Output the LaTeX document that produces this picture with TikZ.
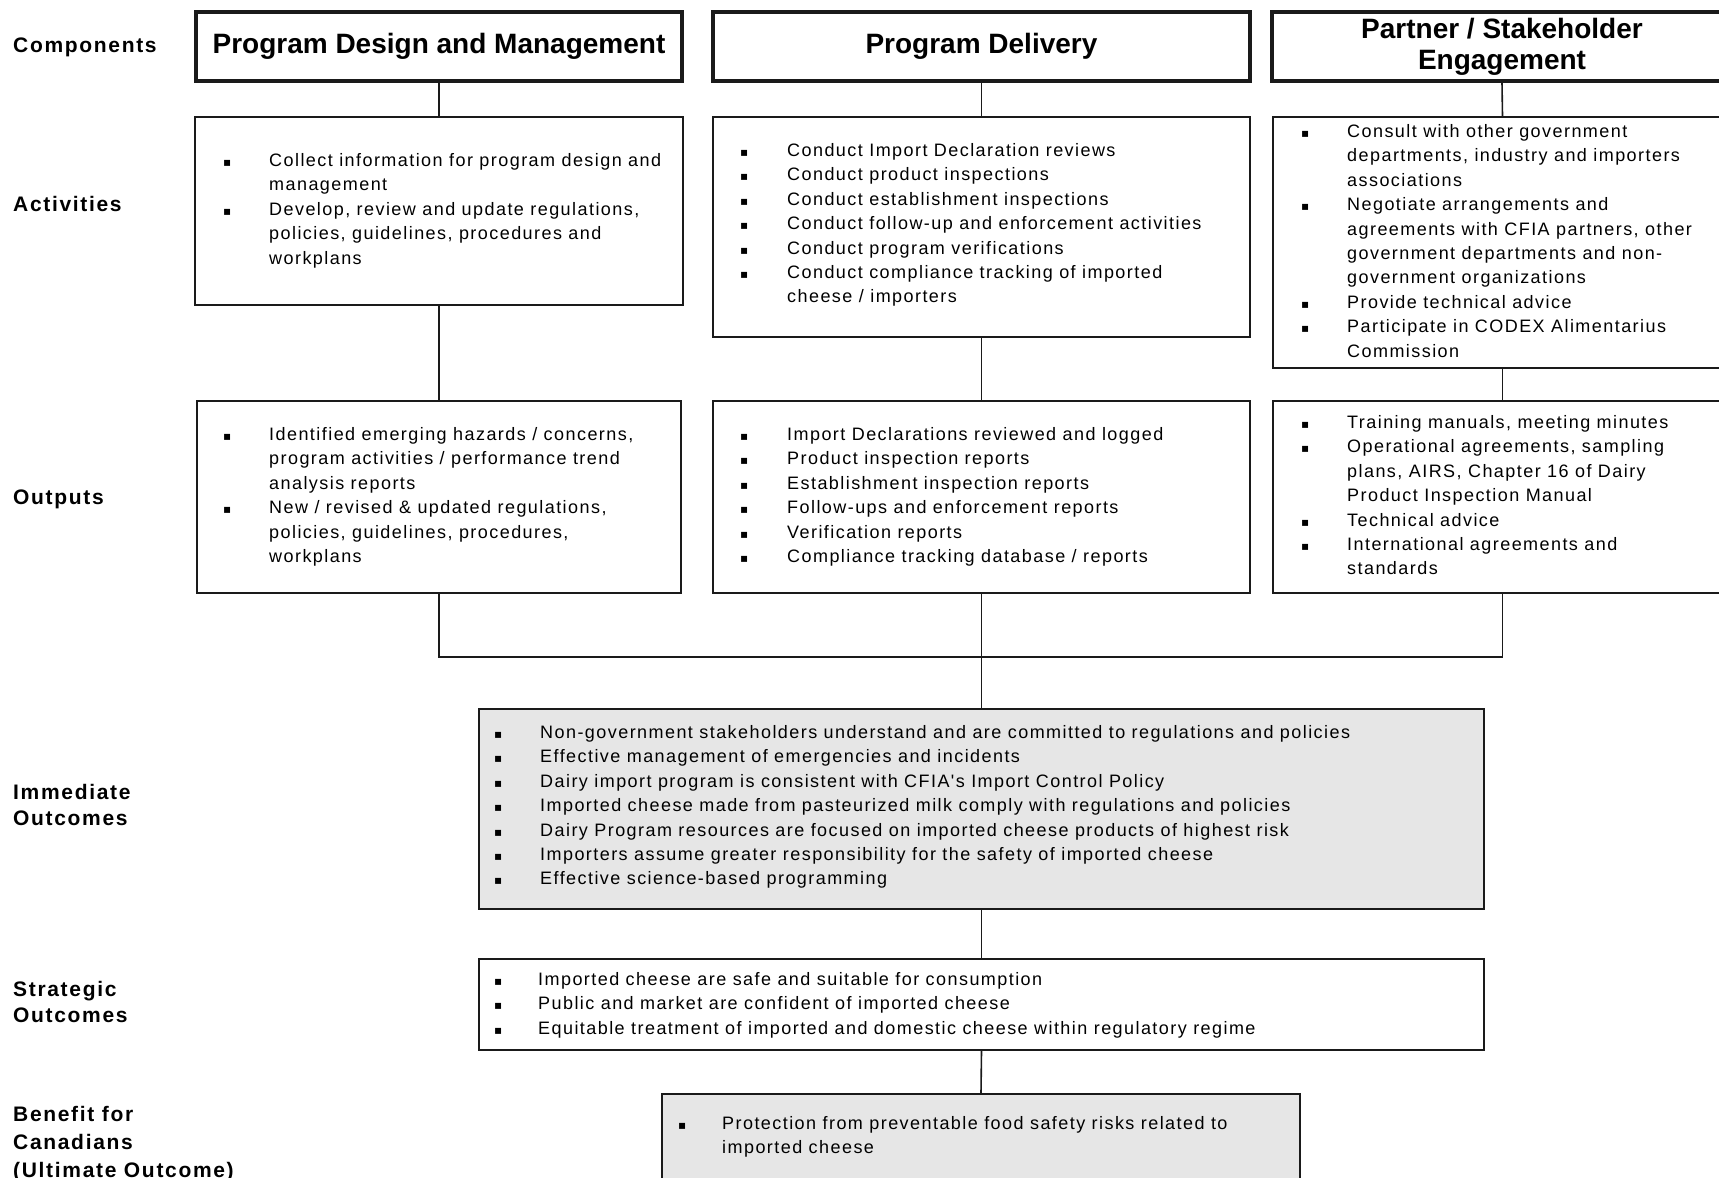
\documentclass[tikz,border=0pt]{standalone}
\usepackage{fontspec}
\setmainfont{Liberation Sans}
\newfontfamily\spaced[LetterSpace=8]{Liberation Sans}
\newfontfamily\bulletfont{DejaVu Sans}
\definecolor{boxgray}{HTML}{E6E6E6}
\definecolor{ink}{HTML}{1A1A1A}
\newcommand{\bl}{{\bulletfont\fontsize{12}{12}\selectfont ▪}}
\tikzset{
  compbox/.style={draw=ink, line width=4pt, rectangle, inner sep=0pt, align=center,
    font=\fontsize{28}{31}\selectfont\bfseries},
  actbox/.style={draw=ink, line width=1.6pt, rectangle, inner sep=0pt, fill=white},
  graybox/.style={actbox, fill=boxgray},
  txt/.style={inner sep=0pt, anchor=base west, font=\spaced\fontsize{18}{24.4}\selectfont},
  lbl/.style={inner sep=0pt, anchor=base west, align=left, font=\spaced\bfseries\fontsize{21}{26}\selectfont},
  lblb/.style={lbl, font=\spaced\bfseries\fontsize{21}{28}\selectfont},
  conn/.style={draw=ink, line width=1.6pt},
}
\begin{document}
\begin{tikzpicture}[x=1pt,y=-1pt]
\useasboundingbox (0,0) rectangle (1719,1178);
\clip (0,0) rectangle (1719,1178);
\fill[white] (0,0) rectangle (1719,1178);

% row labels (base anchor = baseline of the last line)
\node[lbl] (lcomp) at (13,52.5) {Components};
\node[lbl] (lact) at (13,211.5) {Activities};
\node[lbl] (lout) at (13,504.5) {Outputs};
\node[lbl] (limm) at (13,825.5) {Immediate\\Outcomes};
\node[lbl] (lstr) at (13,1022.5) {Strategic\\Outcomes};
\node[lblb] (lben) at (13,1177) {Benefit for\\Canadians\\(Ultimate Outcome)};

% components
\node[compbox, minimum width=486pt, minimum height=69pt] (pdm) at (439,46.5) {Program Design and Management};
\node[compbox, minimum width=537pt, minimum height=69pt] (pd) at (981.5,46.5) {Program Delivery};
\node[compbox, minimum width=460pt, minimum height=69pt] (pse) at (1502,46.5) {Partner / Stakeholder\\Engagement};

% activities
\node[actbox, minimum width=488pt, minimum height=188pt] (a1) at (439,211) {};
\node[actbox, minimum width=537pt, minimum height=220pt] (a2) at (981.5,227) {};
\node[actbox, minimum width=459pt, minimum height=251pt] (a3) at (1502.5,242.5) {};

% outputs
\node[actbox, minimum width=484pt, minimum height=192pt] (o1) at (439,497) {};
\node[actbox, minimum width=537pt, minimum height=192pt] (o2) at (981.5,497) {};
\node[actbox, minimum width=459pt, minimum height=192pt] (o3) at (1502.5,497) {};

% outcomes
\node[graybox, minimum width=1005pt, minimum height=200pt] (imm) at (981.5,809) {};
\node[actbox, minimum width=1005pt, minimum height=91pt] (strat) at (981.5,1004.5) {};
\node[graybox, minimum width=638pt, minimum height=106pt] (ben) at (981,1147) {};

% connectors
\draw[conn] (pdm.south) -- (a1.north);
\draw[conn] (a1.south) -- (o1.north);
\draw[conn] (pd.south) -- (a2.north);
\draw[conn] (a2.south) -- (o2.north);
\draw[conn] (pse.south) -- (a3.north);
\draw[conn] (a3.south) -- (o3.north);
\coordinate (busL) at (439,657);
\coordinate (busR) at (1502.5,657);
\draw[conn] (o1.south) -- (busL) -- (busR) -- (o3.south);
\draw[conn] (o2.south) -- (imm.north);
\draw[conn] (imm.south) -- (strat.north);
\draw[conn] (strat.south) -- (ben.north);

% texts
\node[txt] (a1t) at (223,166.5) {\begin{tabular}[t]{@{}p{46pt}@{}l@{}}
\bl & Collect information for program design and\\
 & management\\
\bl & Develop, review and update regulations,\\
 & policies, guidelines, procedures and\\
 & workplans
\end{tabular}};

\node[txt] (a2t) at (740,156.5) {\begin{tabular}[t]{@{}p{47pt}@{}l@{}}
\bl & Conduct Import Declaration reviews\\
\bl & Conduct product inspections\\
\bl & Conduct establishment inspections\\
\bl & Conduct follow-up and enforcement activities\\
\bl & Conduct program verifications\\
\bl & Conduct compliance tracking of imported\\
 & cheese / importers
\end{tabular}};

\node[txt] (a3t) at (1301,137.5) {\begin{tabular}[t]{@{}p{46pt}@{}l@{}}
\bl & Consult with other government\\
 & departments, industry and importers\\
 & associations\\
\bl & Negotiate arrangements and\\
 & agreements with CFIA partners, other\\
 & government departments and non-\\
 & government organizations\\
\bl & Provide technical advice\\
\bl & Participate in CODEX Alimentarius\\
 & Commission
\end{tabular}};

\node[txt] (o1t) at (223,440.5) {\begin{tabular}[t]{@{}p{46pt}@{}l@{}}
\bl & Identified emerging hazards / concerns,\\
 & program activities / performance trend\\
 & analysis reports\\
\bl & New / revised \& updated regulations,\\
 & policies, guidelines, procedures,\\
 & workplans
\end{tabular}};

\node[txt] (o2t) at (740,440.5) {\begin{tabular}[t]{@{}p{47pt}@{}l@{}}
\bl & Import Declarations reviewed and logged\\
\bl & Product inspection reports\\
\bl & Establishment inspection reports\\
\bl & Follow-ups and enforcement reports\\
\bl & Verification reports\\
\bl & Compliance tracking database / reports
\end{tabular}};

\node[txt] (o3t) at (1301,428.5) {\begin{tabular}[t]{@{}p{46pt}@{}l@{}}
\bl & Training manuals, meeting minutes\\
\bl & Operational agreements, sampling\\
 & plans, AIRS, Chapter 16 of Dairy\\
 & Product Inspection Manual\\
\bl & Technical advice\\
\bl & International agreements and\\
 & standards
\end{tabular}};

\node[txt] (immt) at (494,738.5) {\begin{tabular}[t]{@{}p{46pt}@{}l@{}}
\bl & Non-government stakeholders understand and are committed to regulations and policies\\
\bl & Effective management of emergencies and incidents\\
\bl & Dairy import program is consistent with CFIA's Import Control Policy\\
\bl & Imported cheese made from pasteurized milk comply with regulations and policies\\
\bl & Dairy Program resources are focused on imported cheese products of highest risk\\
\bl & Importers assume greater responsibility for the safety of imported cheese\\
\bl & Effective science-based programming
\end{tabular}};

\node[txt] (strt) at (494,985.5) {\begin{tabular}[t]{@{}p{44pt}@{}l@{}}
\bl & Imported cheese are safe and suitable for consumption\\
\bl & Public and market are confident of imported cheese\\
\bl & Equitable treatment of imported and domestic cheese within regulatory regime
\end{tabular}};

\node[txt] (bent) at (678,1129.5) {\begin{tabular}[t]{@{}p{44pt}@{}l@{}}
\bl & Protection from preventable food safety risks related to\\
 & imported cheese
\end{tabular}};
\end{tikzpicture}
\end{document}
